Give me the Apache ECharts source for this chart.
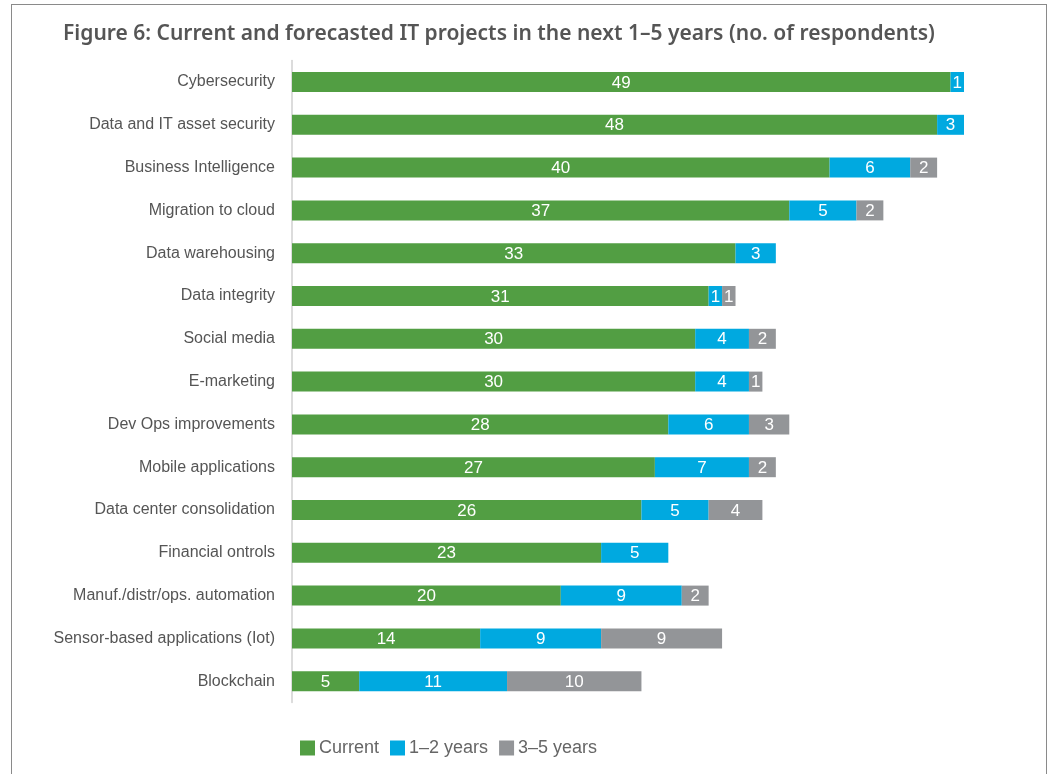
<!DOCTYPE html>
<html>
<head>
<meta charset="utf-8">
<script src="https://cdn.jsdelivr.net/npm/echarts@6/dist/echarts.min.js"></script>
<style>
html,body{margin:0;padding:0;background:#fff;}
#chart{position:absolute;left:0;top:0;width:1053px;height:774px;}
#frame{position:absolute;left:11px;top:4px;width:1034px;height:800px;border:1.5px solid #8a8a8a;pointer-events:none;}
</style>
</head>
<body>
<div id="chart"></div>
<div id="frame"></div>
<script>
const titleText = 'Figure 6: Current and forecasted IT projects in the next 1–5 years (no. of respondents)';
const categories = ['Cybersecurity','Data and IT asset security','Business Intelligence','Migration to cloud','Data warehousing','Data integrity','Social media','E-marketing','Dev Ops improvements','Mobile applications','Data center consolidation','Financial ontrols','Manuf./distr/ops. automation','Sensor-based applications (Iot)','Blockchain'];
const seriesNames = ['Current','1–2 years','3–5 years'];
const current = [49,48,40,37,33,31,30,30,28,27,26,23,20,14,5];
const years12 = [1,3,6,5,3,1,4,4,6,7,5,5,9,9,11];
const years35 = [null,null,2,2,null,1,2,1,3,2,4,null,2,9,10];
const colors = ['#529E43','#00A9E0','#939598'];

const chart = echarts.init(document.getElementById('chart'));
const dataSets = [current, years12, years35];
chart.setOption({
  animation:false,
  title:{text:titleText,left:58,top:19,textStyle:{fontFamily:'Noto Sans',fontSize:21,fontWeight:600,color:'#555555'}},
  legend:{left:295,top:734,itemWidth:15,itemHeight:15,itemGap:11,icon:'rect',
    textStyle:{fontFamily:'Liberation Sans',fontSize:18,color:'#666666',padding:[0,0,0,-1]},
    data:seriesNames},
  grid:{left:292,top:60.6,width:672,height:642,containLabel:false},
  xAxis:{type:'value',min:0,max:50,show:false},
  yAxis:{type:'category',data:categories,inverse:true,
    axisLine:{show:true,lineStyle:{color:'#d0d0d0',width:1.5}},
    axisTick:{show:false},
    axisLabel:{margin:17,fontFamily:'Liberation Sans',fontSize:16,color:'#555555'}},
  series: seriesNames.map((n,i)=>({
    name:n,type:'bar',stack:'total',barWidth:20,
    itemStyle:{color:colors[i]},
    label:{show:true,position:'inside',color:'#ffffff',fontFamily:'Liberation Sans',fontSize:17,offset:[0,1]},
    data:dataSets[i]
  }))
});
</script>
</body>
</html>
